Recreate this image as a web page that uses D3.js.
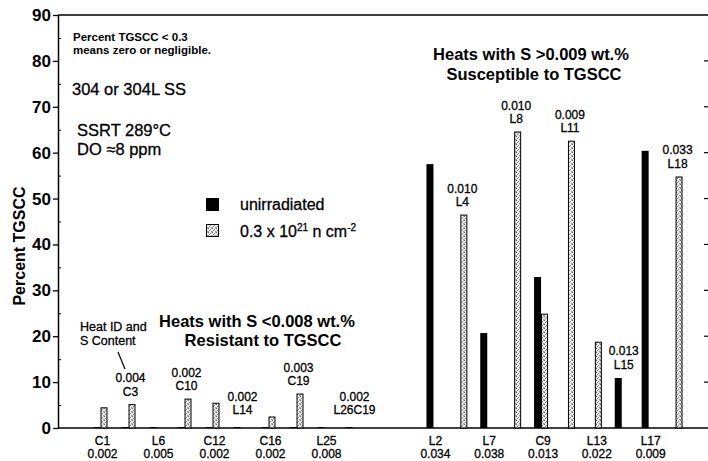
<!DOCTYPE html>
<html>
<head>
<meta charset="utf-8">
<script src="https://cdn.jsdelivr.net/npm/d3@7"></script>
<style>
  html, body { margin: 0; padding: 0; background: #fff; }
  svg { display: block; font-family: "Liberation Sans", Arial, Helvetica, sans-serif; }
  .heavy { stroke: #000; stroke-width: 0.3px; }
</style>
</head>
<body>
<svg id="chart" width="708" height="461"></svg>
<script>
// Heats resistant to TGSCC (S < 0.008 wt.%)
const lowHeats   = ["C1", "C3", "L6", "C10", "C12", "L14", "C16", "C19", "L25", "L26C19"];
const lowSulfur  = ["0.002", "0.004", "0.005", "0.002", "0.002", "0.002", "0.002", "0.003", "0.008", "0.002"];
const lowUnirr   = [0.2, 0.2, 0.2, 0.2, 0.2, 0.2, 0.2, 0.2, 0.2, 0.2];
const lowIrr     = [4.4, 5.1, null, 6.3, 5.4, null, 2.4, 7.4, null, null];

// Heats susceptible to TGSCC (S > 0.009 wt.%)
const highHeats  = ["L2", "L4", "L7", "L8", "C9", "L11", "L13", "L15", "L17", "L18"];
const highSulfur = ["0.034", "0.010", "0.038", "0.010", "0.013", "0.009", "0.022", "0.013", "0.009", "0.033"];
const highUnirr  = [57.5, null, 20.7, null, 32.9, null, null, 10.9, 60.4, null];
const highIrr    = [null, 46.4, null, 64.5, 24.8, 62.5, 18.7, null, null, 54.7];

const yTicks = [0, 10, 20, 30, 40, 50, 60, 70, 80, 90];
const yMinorTicks = [5, 15, 25, 35, 45, 55, 65, 75, 85];

const svg = d3.select("#chart");
const axisX = 58, rightX = 708;

const y = d3.scaleLinear().domain([0, 90]).range([428, 15]);
const xLow = d3.scaleBand().domain(lowHeats).range([86.5, 366.5]);
const xHigh = d3.scaleBand().domain(highHeats).range([420, 689]);

// stippled fill for the irradiated bars
const defs = svg.append("defs");
const pat = defs.append("pattern").attr("id", "stipple")
  .attr("patternUnits", "userSpaceOnUse").attr("width", 4).attr("height", 4);
pat.append("rect").attr("width", 4).attr("height", 4).attr("fill", "#eeeeee");
[[0, 0, "#666"], [2, 1, "#888"], [1, 2, "#777"], [3, 3, "#999"], [3, 0, "#bbb"], [0, 3, "#aaa"]]
  .forEach(([px, py, col]) => pat.append("rect").attr("x", px).attr("y", py)
    .attr("width", 1).attr("height", 1).attr("fill", col));

// frame: top line and right-hand ticks
svg.append("line").attr("x1", axisX).attr("x2", rightX).attr("y1", y(90)).attr("y2", y(90))
  .attr("stroke", "#000").attr("stroke-width", 1.5);
svg.append("g").selectAll("line").data(yTicks.filter(d => d > 0 && d < 90)).join("line")
  .attr("x1", rightX - 4).attr("x2", rightX).attr("y1", d => y(d)).attr("y2", d => y(d))
  .attr("stroke", "#000").attr("stroke-width", 1.2);

// baseline
svg.append("line").attr("x1", axisX).attr("x2", rightX).attr("y1", y(0)).attr("y2", y(0))
  .attr("stroke", "#000").attr("stroke-width", 1.5);

// left axis
const yAxis = svg.append("g").attr("transform", `translate(${axisX},0)`)
  .call(d3.axisLeft(y).tickValues(yTicks).tickSize(5).tickPadding(2).tickSizeOuter(0));
yAxis.select(".domain").attr("stroke-width", 1.5);
yAxis.selectAll(".tick line").attr("stroke-width", 1.3);
yAxis.selectAll(".tick text").attr("font-size", 17).attr("font-weight", "bold")
  .attr("font-family", "Liberation Sans, Arial, sans-serif").attr("fill", "#000");
svg.append("g").attr("transform", `translate(${axisX},0)`)
  .call(d3.axisRight(y).tickValues(yMinorTicks).tickSize(3).tickFormat(""))
  .call(g => g.select(".domain").remove());

svg.append("text").attr("transform", "translate(25,246) rotate(-90)")
  .attr("text-anchor", "middle").attr("font-size", 16).attr("font-weight", "bold")
  .text("Percent TGSCC");

// bars
function drawGroup(heats, sulfur, unirr, irr, x) {
  const g = svg.append("g");
  const idx = d3.range(heats.length);
  const c = i => x(heats[i]) + x.bandwidth() / 2;

  g.selectAll("rect.un").data(idx.filter(i => unirr[i] != null)).join("rect")
    .attr("class", "un")
    .attr("x", i => c(i) - 7).attr("width", 7)
    .attr("y", i => Math.min(y(unirr[i]), y(0) - 1))
    .attr("height", i => Math.max(y(0) - y(unirr[i]), 1))
    .attr("fill", "#000");

  g.selectAll("rect.irr").data(idx.filter(i => irr[i] != null)).join("rect")
    .attr("class", "irr")
    .attr("x", i => c(i) + 0.5).attr("width", 6)
    .attr("y", i => y(irr[i])).attr("height", i => y(0) - y(irr[i]))
    .attr("fill", "url(#stipple)").attr("stroke", "#000").attr("stroke-width", 1);

  // even positions are labelled under the baseline, odd positions above the bars
  const label = (cx, yy, s) => g.append("text").attr("class", "heavy")
    .attr("x", cx).attr("y", yy).attr("text-anchor", "middle").attr("font-size", 12).text(s);
  idx.forEach(i => {
    const cx = c(i) + 2;
    if (i % 2 === 0) {
      label(cx, 444.5, heats[i]);
      label(cx, 458, sulfur[i]);
    } else {
      const top = Math.max(unirr[i] ?? 0, irr[i] ?? 0);
      const base = Math.min(y(top) - 9, y(0) - 14);
      label(cx, base - 13.5, sulfur[i]);
      label(cx, base, heats[i]);
    }
  });
}
drawGroup(lowHeats, lowSulfur, lowUnirr, lowIrr, xLow);
drawGroup(highHeats, highSulfur, highUnirr, highIrr, xHigh);

// annotations
const notes = svg.append("g");
notes.append("text").attr("x", 73).attr("y", 41).attr("font-size", 11.5).attr("font-weight", "bold")
  .text("Percent TGSCC < 0.3");
notes.append("text").attr("x", 73).attr("y", 54).attr("font-size", 11.5).attr("font-weight", "bold")
  .text("means zero or negligible.");
notes.append("text").attr("class", "heavy").attr("x", 72).attr("y", 95).attr("font-size", 16.5).text("304 or 304L SS");
notes.append("text").attr("class", "heavy").attr("x", 77).attr("y", 136).attr("font-size", 16.5).text("SSRT 289°C");
notes.append("text").attr("class", "heavy").attr("x", 77).attr("y", 155).attr("font-size", 16.5).text("DO ≈8 ppm");

notes.append("text").attr("class", "heavy").attr("x", 80).attr("y", 331).attr("font-size", 12.5).text("Heat ID and");
notes.append("text").attr("class", "heavy").attr("x", 80).attr("y", 345).attr("font-size", 12.5).text("S Content");
notes.append("line").attr("x1", 118).attr("y1", 352).attr("x2", 125).attr("y2", 369)
  .attr("stroke", "#000").attr("stroke-width", 1.2);

notes.append("text").attr("x", 257).attr("y", 327).attr("text-anchor", "middle")
  .attr("font-size", 16.5).attr("font-weight", "bold").text("Heats with S <0.008 wt.%");
notes.append("text").attr("x", 263).attr("y", 346).attr("text-anchor", "middle")
  .attr("font-size", 16.5).attr("font-weight", "bold").text("Resistant to TGSCC");
notes.append("text").attr("x", 531).attr("y", 60).attr("text-anchor", "middle")
  .attr("font-size", 16.5).attr("font-weight", "bold").text("Heats with S >0.009 wt.%");
notes.append("text").attr("x", 534).attr("y", 80).attr("text-anchor", "middle")
  .attr("font-size", 16.5).attr("font-weight", "bold").text("Susceptible to TGSCC");

// legend
const leg = svg.append("g");
leg.append("rect").attr("x", 206).attr("y", 198).attr("width", 13).attr("height", 13).attr("fill", "#000");
leg.append("rect").attr("x", 206.5).attr("y", 224.5).attr("width", 12).attr("height", 12)
  .attr("fill", "url(#stipple)").attr("stroke", "#000");
leg.append("text").attr("class", "heavy").attr("x", 240).attr("y", 210).attr("font-size", 16).text("unirradiated");
const l2 = leg.append("text").attr("class", "heavy").attr("x", 240).attr("y", 237).attr("font-size", 16);
l2.append("tspan").text("0.3 x 10");
l2.append("tspan").attr("dy", -6).attr("font-size", 10).text("21");
l2.append("tspan").attr("dy", 6).text(" n cm");
l2.append("tspan").attr("dy", -6).attr("font-size", 10).text("-2");
</script>
</body>
</html>
